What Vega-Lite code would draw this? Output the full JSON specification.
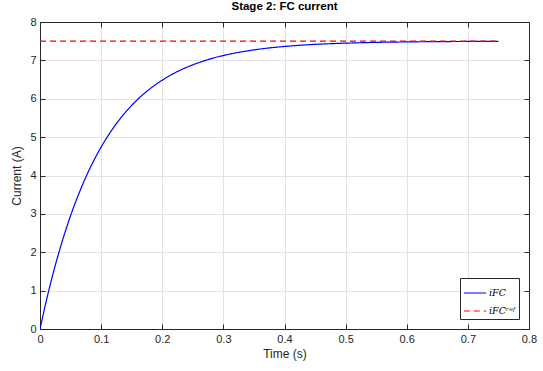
{
  "$schema": "https://vega.github.io/schema/vega-lite/v6.json",
  "width": 489,
  "height": 307,
  "autosize": {"type": "none"},
  "padding": {"left": 40, "top": 22, "right": 14, "bottom": 42},
  "background": "white",
  "title": {"text": "Stage 2: FC current", "fontSize": 11.5, "font": "Liberation Sans", "fontWeight": "bold", "color": "#000000", "offset": 4},
  "config": {
    "view": {"stroke": null},
    "axis": {
      "domainColor": "#262626", "tickColor": "#262626", "gridColor": "#e3e3e3",
      "labelColor": "#262626", "titleColor": "#262626", "labelFont": "Liberation Sans", "titleFont": "Liberation Sans",
      "labelFontSize": 11, "titleFontSize": 12, "titleFontWeight": "normal", "tickSize": -5, "labelPadding": 9,
      "labelFlush": false, "labelOverlap": false
    }
  },
  "data": {"values": [
    {"t": 0, "v": 0, "s": "iFC"},
    {"t": 0.0125, "v": 0.881, "s": "iFC"},
    {"t": 0.025, "v": 1.659, "s": "iFC"},
    {"t": 0.0375, "v": 2.345, "s": "iFC"},
    {"t": 0.05, "v": 2.951, "s": "iFC"},
    {"t": 0.0625, "v": 3.485, "s": "iFC"},
    {"t": 0.075, "v": 3.957, "s": "iFC"},
    {"t": 0.0875, "v": 4.373, "s": "iFC"},
    {"t": 0.1, "v": 4.741, "s": "iFC"},
    {"t": 0.125, "v": 5.351, "s": "iFC"},
    {"t": 0.15, "v": 5.827, "s": "iFC"},
    {"t": 0.175, "v": 6.197, "s": "iFC"},
    {"t": 0.2, "v": 6.485, "s": "iFC"},
    {"t": 0.225, "v": 6.71, "s": "iFC"},
    {"t": 0.25, "v": 6.884, "s": "iFC"},
    {"t": 0.275, "v": 7.021, "s": "iFC"},
    {"t": 0.3, "v": 7.127, "s": "iFC"},
    {"t": 0.325, "v": 7.209, "s": "iFC"},
    {"t": 0.35, "v": 7.273, "s": "iFC"},
    {"t": 0.375, "v": 7.324, "s": "iFC"},
    {"t": 0.4, "v": 7.363, "s": "iFC"},
    {"t": 0.425, "v": 7.393, "s": "iFC"},
    {"t": 0.45, "v": 7.417, "s": "iFC"},
    {"t": 0.475, "v": 7.435, "s": "iFC"},
    {"t": 0.5, "v": 7.449, "s": "iFC"},
    {"t": 0.55, "v": 7.469, "s": "iFC"},
    {"t": 0.6, "v": 7.481, "s": "iFC"},
    {"t": 0.65, "v": 7.489, "s": "iFC"},
    {"t": 0.7, "v": 7.493, "s": "iFC"},
    {"t": 0.75, "v": 7.496, "s": "iFC"},
    {"t": 0, "v": 7.5, "s": "iFCʳᵉᶠ"},
    {"t": 0.75, "v": 7.5, "s": "iFCʳᵉᶠ"}
  ]},
  "layer": [
    {
      "mark": {"type": "line", "strokeWidth": 1.2, "interpolate": "monotone", "clip": true},
      "encoding": {
        "x": {"field": "t", "type": "quantitative", "scale": {"domain": [0, 0.8], "nice": false, "zero": false},
              "axis": {"title": "Time (s)", "values": [0,0.1,0.2,0.3,0.4,0.5,0.6,0.7,0.8], "format": "~g", "titlePadding": 4}},
        "y": {"field": "v", "type": "quantitative", "scale": {"domain": [0, 8], "nice": false},
              "axis": {"title": "Current (A)", "values": [0,1,2,3,4,5,6,7,8], "titlePadding": 6}},
        "color": {"field": "s", "type": "nominal", "scale": {"domain": ["iFC", "iFCʳᵉᶠ"], "range": ["#0000ff", "#ff0000"]},
                  "legend": {"title": null, "orient": "bottom-right", "offset": 10, "symbolType": "stroke", "symbolSize": 500, "symbolStrokeWidth": 1.2,
                             "strokeColor": "#262626", "fillColor": "white", "padding": 3, "labelFont": "DejaVu Serif", "labelFontStyle": "italic", "labelFontSize": 9.5, "labelColor": "#000000", "rowPadding": 1, "labelOffset": 2}},
        "strokeDash": {"field": "s", "type": "nominal", "scale": {"domain": ["iFC", "iFCʳᵉᶠ"], "range": [[1, 0], [6, 4]]}, "legend": {"title": null}}
      }
    },
    {
      "mark": {"type": "point", "opacity": 0},
      "encoding": {
        "x": {"field": "t", "type": "quantitative", "axis": {"orient": "top", "title": null, "labels": false, "grid": false, "values": [0,0.1,0.2,0.3,0.4,0.5,0.6,0.7,0.8]}},
        "y": {"field": "v", "type": "quantitative", "axis": {"orient": "right", "title": null, "labels": false, "grid": false, "values": [0,1,2,3,4,5,6,7,8]}}
      }
    }
  ],
  "resolve": {"axis": {"x": "independent", "y": "independent"}}
}
